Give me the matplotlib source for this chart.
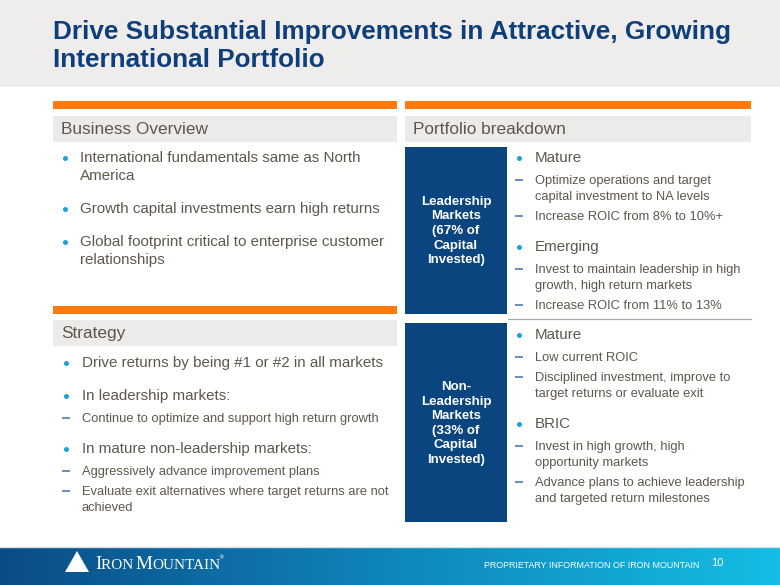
import numpy as np
import matplotlib
matplotlib.use("Agg")
import matplotlib.pyplot as plt
from matplotlib.patches import Rectangle, Polygon
from matplotlib.colors import LinearSegmentedColormap

# ---------------- content ----------------
title_lines = ["Drive Substantial Improvements in Attractive, Growing",
               "International Portfolio"]

overview_header = "Business Overview"
overview_items = [
    ("b", ["International fundamentals same as North", "America"]),
    ("b", ["Growth capital investments earn high returns"]),
    ("b", ["Global footprint critical to enterprise customer", "relationships"]),
]

strategy_header = "Strategy"
strategy_items = [
    ("b", ["Drive returns by being #1 or #2 in all markets"]),
    ("b", ["In leadership markets:"]),
    ("d", ["Continue to optimize and support high return growth"]),
    ("b", ["In mature non-leadership markets:"]),
    ("d", ["Aggressively advance improvement plans"]),
    ("d", ["Evaluate exit alternatives where target returns are not", "achieved"]),
]

portfolio_header = "Portfolio breakdown"
leader_label = "Leadership\nMarkets\n(67% of\nCapital\nInvested)"
leader_items = [
    ("b", ["Mature"]),
    ("d", ["Optimize operations and target", "capital investment to NA levels"]),
    ("d", ["Increase ROIC from 8% to 10%+"]),
    ("b", ["Emerging"]),
    ("d", ["Invest to maintain leadership in high", "growth, high return markets"]),
    ("d", ["Increase ROIC from 11% to 13%"]),
]
nonleader_label = "Non-\nLeadership\nMarkets\n(33% of\nCapital\nInvested)"
nonleader_items = [
    ("b", ["Mature"]),
    ("d", ["Low current ROIC"]),
    ("d", ["Disciplined investment, improve to", "target returns or evaluate exit"]),
    ("b", ["BRIC"]),
    ("d", ["Invest in high growth, high", "opportunity markets"]),
    ("d", ["Advance plans to achieve leadership", "and targeted return milestones"]),
]

footer_company_parts = [("I", True), ("RON ", False), ("M", True), ("OUNTAIN", False)]
footer_note = "PROPRIETARY INFORMATION OF IRON MOUNTAIN"
page_number = "10"

# ---------------- style ----------------
FONT = "Liberation Sans"
TITLE_C = "#0E3F7B"
ORANGE = "#FF7A0E"
HEAD_BG = "#ECEBEA"
TEXT_C = "#5E574B"
BULLET_C = "#19A3D8"
DASH_C = "#3F6FA5"
BOX_C = "#0B4580"

fig = plt.figure(figsize=(7.8, 5.85), dpi=100)
ax = fig.add_axes([0, 0, 1, 1])
ax.set_xlim(0, 780)
ax.set_ylim(585, 0)
ax.axis("off")

# title band
ax.add_patch(Rectangle((0, 0), 780, 87, color="#EEEDEC", lw=0))
for i, t in enumerate(title_lines):
    ax.text(53, 32 + i * 28, t, fontsize=18.8, fontweight="bold", color=TITLE_C,
            family=FONT, va="center", ha="left")


def header(x0, x1, y_orange, y_head, label):
    ax.add_patch(Rectangle((x0, y_orange), x1 - x0, 8, color=ORANGE, lw=0))
    ax.add_patch(Rectangle((x0, y_head), x1 - x0, 26, color=HEAD_BG, lw=0))
    ax.text(x0 + 8, y_head + 13.5, label, fontsize=12.4, color=TEXT_C,
            family=FONT, va="center", ha="left")


GAP = {("b", "b"): 33, ("b", "d"): 23, ("d", "d"): 20, ("d", "b"): 30}
WRAP = {"b": 18, "d": 16}
SIZE = {"b": 10.9, "d": 9.3}


def flow(items, x_mark, x_text, y0, bwrap=18):
    y = y0
    prev = None
    for kind, lines in items:
        if prev is not None:
            y += GAP[(prev, kind)]
        if kind == "b":
            ax.plot([x_mark], [y - 0.5], "o", ms=3.6, color=BULLET_C, mec="none")
        else:
            ax.plot([x_mark - 4, x_mark + 4], [y - 0.8, y - 0.8], color=DASH_C, lw=1.1,
                    solid_capstyle="butt")
        for j, ln in enumerate(lines):
            if j > 0:
                y += bwrap if kind == "b" else WRAP["d"]
            ax.text(x_text, y, ln, fontsize=SIZE[kind], color=TEXT_C, family=FONT,
                    va="center", ha="left")
        prev = kind


# left column
header(53, 397, 101, 116, overview_header)
flow(overview_items, 65, 80, 158)
header(53, 397, 306, 320, strategy_header)
flow(strategy_items, 66, 82, 363)

# right column
header(405, 751, 101, 116, portfolio_header)
ax.add_patch(Rectangle((405, 147), 102, 167, color=BOX_C, lw=0))
ax.text(456, 231, leader_label, fontsize=9.5, fontweight="bold", color="white",
        family=FONT, ha="center", va="center", linespacing=1.28, multialignment="center")
ax.plot([508, 751], [319, 319], color="#A8A8A8", lw=0.9)
ax.add_patch(Rectangle((405, 323), 102, 199, color=BOX_C, lw=0))
ax.text(456, 423.5, nonleader_label, fontsize=9.5, fontweight="bold", color="white",
        family=FONT, ha="center", va="center", linespacing=1.28, multialignment="center")
flow(leader_items, 519, 535, 158, bwrap=16)
flow(nonleader_items, 519, 535, 335, bwrap=16)

# footer gradient band
cmap = LinearSegmentedColormap.from_list("ftr", ["#0B4C87", "#0F86BA", "#14BDE3"])
grad = np.linspace(0, 1, 256).reshape(1, -1)
ax.imshow(grad, cmap=cmap, extent=(0, 780, 585, 547), aspect="auto", zorder=0)
ax.plot([0, 780], [546.5, 546.5], color="#D9DEE2", lw=1)
ax.set_xlim(0, 780)
ax.set_ylim(585, 0)

ax.add_patch(Polygon([(65, 572), (77, 551), (89, 572)], closed=True,
                     facecolor="white", edgecolor="none", zorder=3))

# small-caps company name
renderer = fig.canvas.get_renderer()
x = 95
for txt, big in footer_company_parts:
    t = ax.text(x, 569, txt, fontsize=13.8 if big else 11.0, color="white",
                family="Liberation Serif", ha="left", va="baseline", zorder=3)
    bb = t.get_window_extent(renderer=renderer)
    x += bb.width * 0.96
ax.text(x + 1, 558, "®", fontsize=4, color="white", family="DejaVu Sans",
        ha="left", va="center", zorder=3)
ax.text(484, 566, footer_note, fontsize=6.4, color="white", family=FONT,
        ha="left", va="center", zorder=3)
ax.text(711, 563, page_number, fontsize=8, color="white", family=FONT,
        ha="left", va="center", zorder=3)

fig.savefig("out.png", dpi=100)
